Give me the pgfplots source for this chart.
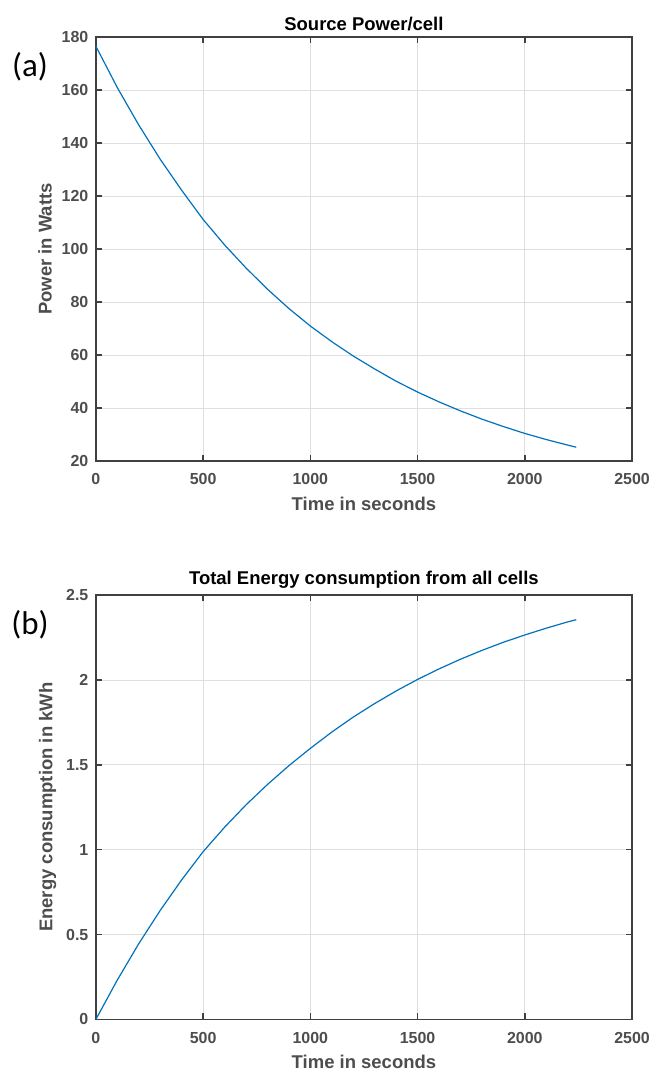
\documentclass[border=0pt]{standalone}
\usepackage{pgfplots}
\pgfplotsset{compat=1.18}
\usepackage{fontspec}
\setmainfont{Liberation Sans}
\newfontfamily\carlito{Carlito}
\definecolor{mblue}{RGB}{0,114,189}
\definecolor{axgray}{RGB}{64,64,64}
\definecolor{txtgray}{RGB}{77,77,77}
\definecolor{gridgray}{RGB}{223,223,223}

\pgfplotsset{
  mstyle/.style={
    width=537pt, height=425pt, scale only axis,
    xmin=0, xmax=2500, xtick={0,500,...,2500},
    grid=major, major grid style={gridgray, line width=0.8pt},
    axis line style={axgray, line width=1.6pt},
    tick style={axgray, line width=1.6pt},
    major tick length=6pt,
    tick align=inside,
    ticklabel style={font=\fontsize{16}{18}\selectfont\bfseries, text=txtgray},
    xticklabel style={yshift=-9pt},
    yticklabel style={xshift=-4pt},
    label style={font=\fontsize{18.5}{21}\selectfont\bfseries, text=txtgray},
    xlabel style={yshift=-5pt},
    ylabel style={yshift=3pt},
    title style={font=\fontsize{18.5}{21}\selectfont\bfseries, text=black, yshift=-3pt},
    xlabel={Time in seconds},
    clip=false,
    scaled ticks=false,
    /pgf/number format/assume math mode=true,
    /pgf/number format/1000 sep={},
  }
}

\begin{document}
\begin{tikzpicture}
% (a) source power per cell
\begin{axis}[mstyle, at={(0pt,559pt)},
    ymin=20, ymax=180, ytick={20,40,...,180},
    title={Source Power/cell},
    ylabel={Power in Watts}]
\addplot[mblue, line width=1.2pt] coordinates {
(0,176.5) (100,160.9) (200,146.8) (300,133.9) (400,122.2) (500,111.2)
(600,101.6) (700,92.9) (800,84.9) (900,77.6) (1000,71.0) (1100,65.1)
(1200,59.7) (1300,54.8) (1400,50.2) (1500,46.1) (1600,42.4) (1700,39.0)
(1800,35.9) (1900,33.1) (2000,30.5) (2100,28.2) (2200,26.1) (2240,25.3)
};
\node[font=\carlito\fontsize{33}{33}\selectfont, xshift=-66pt, yshift=-30pt]
  at (rel axis cs:0,1) {(a)};
% page margins above and to the right of the figure
\path (rel axis cs:0,1) ++(-96pt,37pt);
\path (rel axis cs:1,1) ++(21pt,37pt);
\end{axis}

% (b) total energy from all cells
\begin{axis}[mstyle, at={(0pt,0pt)},
    ymin=0, ymax=2.5, ytick={0,0.5,...,2.5},
    title={Total Energy consumption from all cells},
    ylabel={Energy consumption in kWh}]
\addplot[mblue, line width=1.2pt] coordinates {
(0,0) (100,0.232) (200,0.446) (300,0.642) (400,0.822) (500,0.988)
(600,1.132) (700,1.264) (800,1.384) (900,1.495) (1000,1.597) (1100,1.693)
(1200,1.781) (1300,1.861) (1400,1.935) (1500,2.003) (1600,2.065) (1700,2.122)
(1800,2.174) (1900,2.222) (2000,2.265) (2100,2.305) (2200,2.342) (2240,2.355)
};
\node[font=\carlito\fontsize{33}{33}\selectfont, xshift=-66pt, yshift=-30pt]
  at (rel axis cs:0,1) {(b)};
\path (rel axis cs:0,0) ++(-96pt,-51pt);
\end{axis}
\end{tikzpicture}
\end{document}
